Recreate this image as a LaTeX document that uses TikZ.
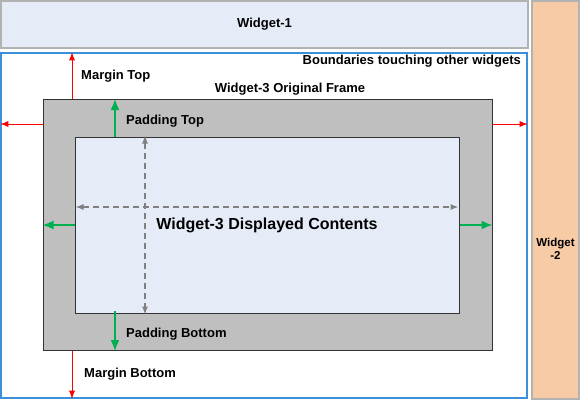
\documentclass[tikz,border=0pt]{standalone}
\usepackage{fontspec}
\setmainfont{Liberation Sans}
\usetikzlibrary{arrows.meta,positioning}

\definecolor{paneblue}{HTML}{E6ECF7}
\definecolor{peach}{HTML}{F8CBA7}
\definecolor{framegray}{HTML}{BFBFBF}
\definecolor{edgeblue}{HTML}{3C8FD8}
\definecolor{padgreen}{HTML}{00B050}

\begin{document}
\begin{tikzpicture}[x=1pt,y=-1pt,inner sep=0pt]
	\tikzstyle{widget}
	  =[draw=gray!60, line width=1.3pt, rectangle]
	\tikzstyle{lbl}
	  =[font=\bfseries\fontsize{13}{14}\selectfont, anchor=west]
	\tikzstyle{marg}
	  =[draw=red, line width=0.8pt, -{Latex[length=8pt,width=6pt]}]
	\tikzstyle{pad}
	  =[draw=padgreen, line width=1.6pt, -{Latex[length=11pt,width=9pt]}]
	\tikzstyle{guide}
	  =[draw=gray, line width=1.2pt, dash pattern=on 6pt off 4pt,
	  {Latex[length=8pt,width=6pt]}-{Latex[length=8pt,width=6pt]}]

	\useasboundingbox (0,0) rectangle (580,400);

	\node[widget, fill=paneblue, minimum width=527pt, minimum height=47pt] (w1)
	  at (264.5,24.5) {\bfseries\fontsize{13}{14}\selectfont Widget-1};
	\node[widget, fill=peach, minimum width=47pt, minimum height=398pt] (w2)
	  at (555.5,200) {};
	\node[font=\bfseries\fontsize{11.5}{13.5}\selectfont, align=center] (w2txt)
	  at (555.5,249) {Widget\\-2};

	\node[draw=edgeblue, line width=1.3pt, minimum width=526pt, minimum height=345pt] (outer)
	  at (264,225.5) {};
	\node[draw=black!80, line width=1pt, fill=framegray, minimum width=449pt, minimum height=251pt] (frame)
	  at (267.5,225) {};
	\node[draw=black!80, line width=1pt, fill=paneblue, minimum width=384pt, minimum height=176pt] (inner)
	  at (267,225) {\bfseries\fontsize{16}{18}\selectfont Widget-3 Displayed Contents};

	\node[lbl, anchor=east] (touch) at (521,61) {Boundaries touching other widgets};
	\node[lbl, anchor=center] (orig) at (290,89) {Widget-3 Original Frame};
	\node[lbl] (mtop) at (81,76) {Margin Top};
	\node[lbl] (ptop) at (126,121) {Padding Top};
	\node[lbl] (pbot) at (126,334) {Padding Bottom};
	\node[lbl] (mbot) at (84,374) {Margin Bottom};

	% margins
	\coordinate (mx) at (72,124);
	\coordinate (my) at (43,124);
	\draw[marg] (frame.north -| mx)--(outer.north -| mx);
	\draw[marg] (frame.south -| mx)--(outer.south -| mx);
	\draw[marg] (frame.west |- my)--(outer.west |- my);
	\draw[marg] (frame.east |- my)--(outer.east |- my);

	% paddings
	\coordinate (px) at (115,225);
	\draw[pad] (inner.north -| px)--(frame.north -| px);
	\draw[pad] ([yshift=3pt]inner.south -| px)--(frame.south -| px);
	\draw[pad] (inner.west |- px)--(frame.west |- px);
	\draw[pad] (inner.east |- px)--(frame.east |- px);

	% contents
	\coordinate (gx) at (145,207);
	\draw[guide] ([yshift=1pt]inner.north -| gx)--([yshift=-1pt]inner.south -| gx);
	\draw[guide] ([xshift=1pt]inner.west |- gx)--([xshift=-1pt]inner.east |- gx);
\end{tikzpicture}
\end{document}
